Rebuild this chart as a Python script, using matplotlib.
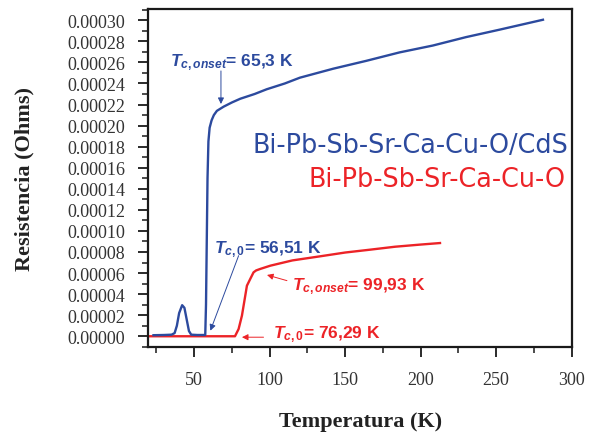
import numpy as np
import matplotlib
matplotlib.use('agg')
import matplotlib.pyplot as plt
from matplotlib.ticker import MultipleLocator, FormatStrFormatter

# CdS composite sample (blue)
temp_cds = [23, 30, 35, 37, 38.5, 40, 42, 43.5, 45, 46.5, 48, 52, 57.3, 57.8, 58.3,
            58.8, 59.4, 60.2, 61.5, 63, 65, 69.5, 75, 80.5, 90, 98, 110, 120, 142,
            164, 186, 208, 230, 252, 281]
res_cds = [0.10, 0.12, 0.15, 0.30, 1.0, 2.2, 2.95, 2.7, 1.6, 0.5, 0.15, 0.12, 0.12,
           3.0, 9.0, 15.0, 18.5, 19.8, 20.5, 21.0, 21.4, 21.8, 22.2, 22.55, 23.0,
           23.45, 24.0, 24.55, 25.4, 26.15, 26.95, 27.6, 28.4, 29.1, 30.05]

# pure sample (red)
temp_pure = [20, 77, 79.4, 81.6, 83.8, 84.9, 87.1, 89.3, 91, 93.7, 100.4, 115,
             133.4, 150, 166.5, 183, 199.5, 212.8]
res_pure = [0, 0, 0.69, 1.96, 3.85, 4.8, 5.44, 6.07, 6.25, 6.39, 6.7, 7.2, 7.59,
            7.95, 8.22, 8.5, 8.7, 8.85]

res_cds = np.array(res_cds) * 1e-5
res_pure = np.array(res_pure) * 1e-5

blue = '#2c4a9e'
red = '#ec2327'

plt.rcParams['mathtext.fontset'] = 'custom'
plt.rcParams['mathtext.it'] = 'Liberation Sans:italic:bold'
plt.rcParams['mathtext.rm'] = 'Liberation Sans:bold'

fig = plt.figure(figsize=(5.93, 4.35), dpi=100)
ax = fig.add_axes([0.2504, 0.2, 0.7136, 0.777])

ax.plot(temp_pure, res_pure, color=red, lw=1.7)
ax.plot(temp_cds, res_cds, color=blue, lw=1.7)

ax.set_xlim(19.7, 300)
ax.set_ylim(-1.02e-5, 3.107e-4)
ax.xaxis.set_major_locator(MultipleLocator(50))
ax.xaxis.set_minor_locator(MultipleLocator(25))
ax.yaxis.set_major_locator(MultipleLocator(2e-5))
ax.yaxis.set_minor_locator(MultipleLocator(1e-5))
ax.yaxis.set_major_formatter(FormatStrFormatter('%.5f'))

for s in ax.spines.values():
    s.set_linewidth(1.6)
    s.set_color('#1a1a1a')

ax.tick_params(which='major', direction='out', length=7, width=1.3, pad=10,
               labelsize=13, colors='#1a1a1a', labelcolor='#333333')
ax.tick_params(which='minor', direction='out', length=4, width=1.1, colors='#1a1a1a')
for lab in ax.get_xticklabels() + ax.get_yticklabels():
    lab.set_family('Liberation Serif')

ax.set_xlabel('Temperatura (K)', family='Liberation Serif', fontweight='bold',
              fontsize=16, labelpad=17, color='#222222')
ax.set_ylabel('Resistencia (Ohms)', family='Liberation Serif', fontweight='bold',
              fontsize=16, labelpad=23, color='#222222')

# sample labels
ax.text(298.0, 1.7526e-4, 'Bi-Pb-Sb-Sr-Ca-Cu-O/CdS', color=blue, fontsize=18.4,
        family='DejaVu Sans', ha='right', va='baseline')
ax.text(295.6, 1.424e-4, 'Bi-Pb-Sb-Sr-Ca-Cu-O', color=red, fontsize=18.4,
        family='DejaVu Sans', ha='right', va='baseline')

# Tc annotations
annots = [
    (r'$T_{c,onset}$= 65,3 K', blue, (34.2, 2.576e-4), (67.7, 2.519e-4), (67.7, 2.205e-4)),
    (r'$T_{c,0}$= 56,51 K', blue, (62.9, 0.797e-4), (79.4, 0.765e-4), (60.7, 0.053e-4)),
    (r'$T_{c,onset}$= 99,93 K', red, (114.7, 0.449e-4), (111.4, 0.528e-4), (98.2, 0.582e-4)),
    (r'$T_{c,0}$= 76,29 K', red, (102.5, -0.009e-4), (95.9, -0.009e-4), (81.6, -0.009e-4)),
]
for txt, col, tpos, a0, a1 in annots:
    ax.text(tpos[0], tpos[1], txt, color=col, fontsize=12.5, fontweight='bold',
            family='Liberation Sans', ha='left', va='baseline')
    ax.annotate('', xy=a1, xytext=a0,
                arrowprops=dict(arrowstyle='-|>', color=col, lw=0.7,
                                mutation_scale=9, shrinkA=0, shrinkB=0))

fig.savefig('out.png', dpi=100, facecolor='white')
